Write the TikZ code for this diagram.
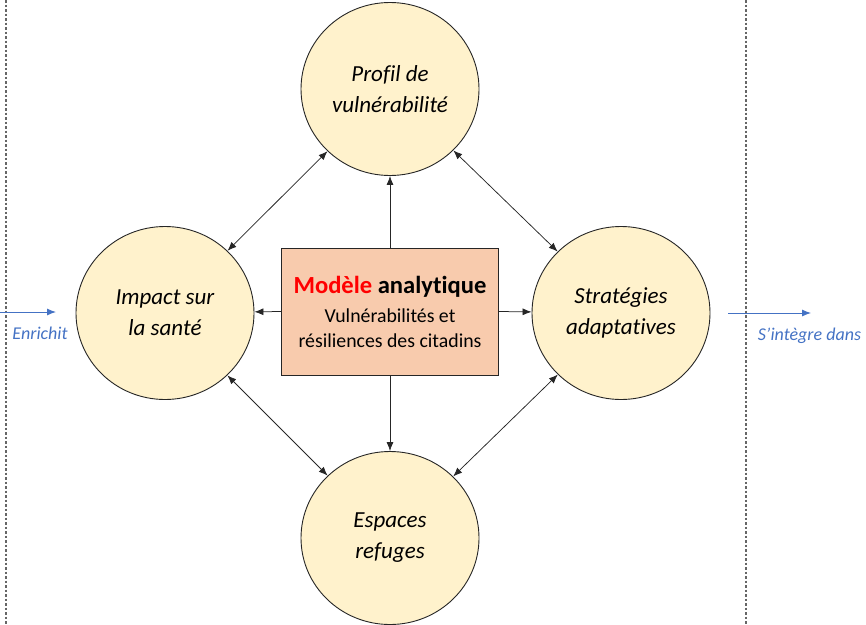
\documentclass[tikz,border=0pt]{standalone}
\usepackage{fontspec}
\setmainfont{Carlito}[Ligatures=NoCommon]
\usetikzlibrary{shapes.geometric,arrows.meta}
\definecolor{circfill}{HTML}{FFF2CC}
\definecolor{boxfill}{HTML}{F8CBAD}
\definecolor{blueline}{HTML}{4472C4}
\definecolor{redtxt}{HTML}{FF0000}
\begin{document}
\begin{tikzpicture}[x=1pt,y=-1pt,
  circ/.style={ellipse,draw=black!85,line width=0.9pt,fill=circfill,minimum width=178pt,minimum height=173pt,inner sep=0pt,align=center,font=\fontsize{23}{31}\selectfont\itshape},
  mainbox/.style={rectangle,draw=black!85,line width=0.9pt,fill=boxfill,minimum width=217pt,minimum height=127pt,inner sep=0pt,align=center,font=\fontsize{19.8}{25}\selectfont},
  conn/.style={line width=0.75pt,draw=black!85},
  tip/.style={-{Latex[length=9pt,width=7pt]}},
  dtip/.style={{Latex[length=9pt,width=7pt]}-{Latex[length=9pt,width=7pt]}},
  sep/.style={draw=black!60,line width=1.1pt,dash pattern=on 2.5pt off 2pt},
  bluearr/.style={draw=blueline,line width=0.9pt,-{Latex[length=9pt,width=7pt]}},
  bluelbl/.style={text=blueline,font=\fontsize{18}{22}\selectfont\itshape,inner sep=0pt}
]
\useasboundingbox (0,0) rectangle (866,624);
\draw[sep] (6,0) -- (6,624);
\draw[sep] (746,0) -- (746,624);

\node[circ] (top) at (390,89) {Profil de\\vulnérabilité};
\node[circ] (left) at (165,313) {Impact sur\\la santé};
\node[circ] (right) at (621,313) {Stratégies\\adaptatives};
\node[circ] (bot) at (390,538) {Espaces\\refuges};

\node[mainbox] (box) at (390,311.5) {{\fontsize{24.6}{29}\selectfont\bfseries\textcolor{redtxt}{Modèle} analytique}\\[4pt]
Vulnérabilités et\\résiliences des citadins};

\draw[conn,tip] (box.north) -- (top);
\draw[conn,tip] (box.south) -- (bot);
\draw[conn,tip] (box.west) -- (left);
\draw[conn,tip] (box.east) -- (right);

\draw[conn,dtip] (top) -- (left);
\draw[conn,dtip] (top) -- (right);
\draw[conn,dtip] (left) -- (bot);
\draw[conn,dtip] (right) -- (bot);

\coordinate (l0) at (0,312);
\coordinate (l1) at (56,312);
\coordinate (r0) at (728,313);
\coordinate (r1) at (811,313);
\draw[bluearr] (l0) -- (l1);
\draw[bluearr] (r0) -- (r1);
\node[bluelbl] (lenr) at (40,333) {Enrichit};
\node[bluelbl] (lint) at (809.5,336) {S’intègre dans};
\end{tikzpicture}
\end{document}
